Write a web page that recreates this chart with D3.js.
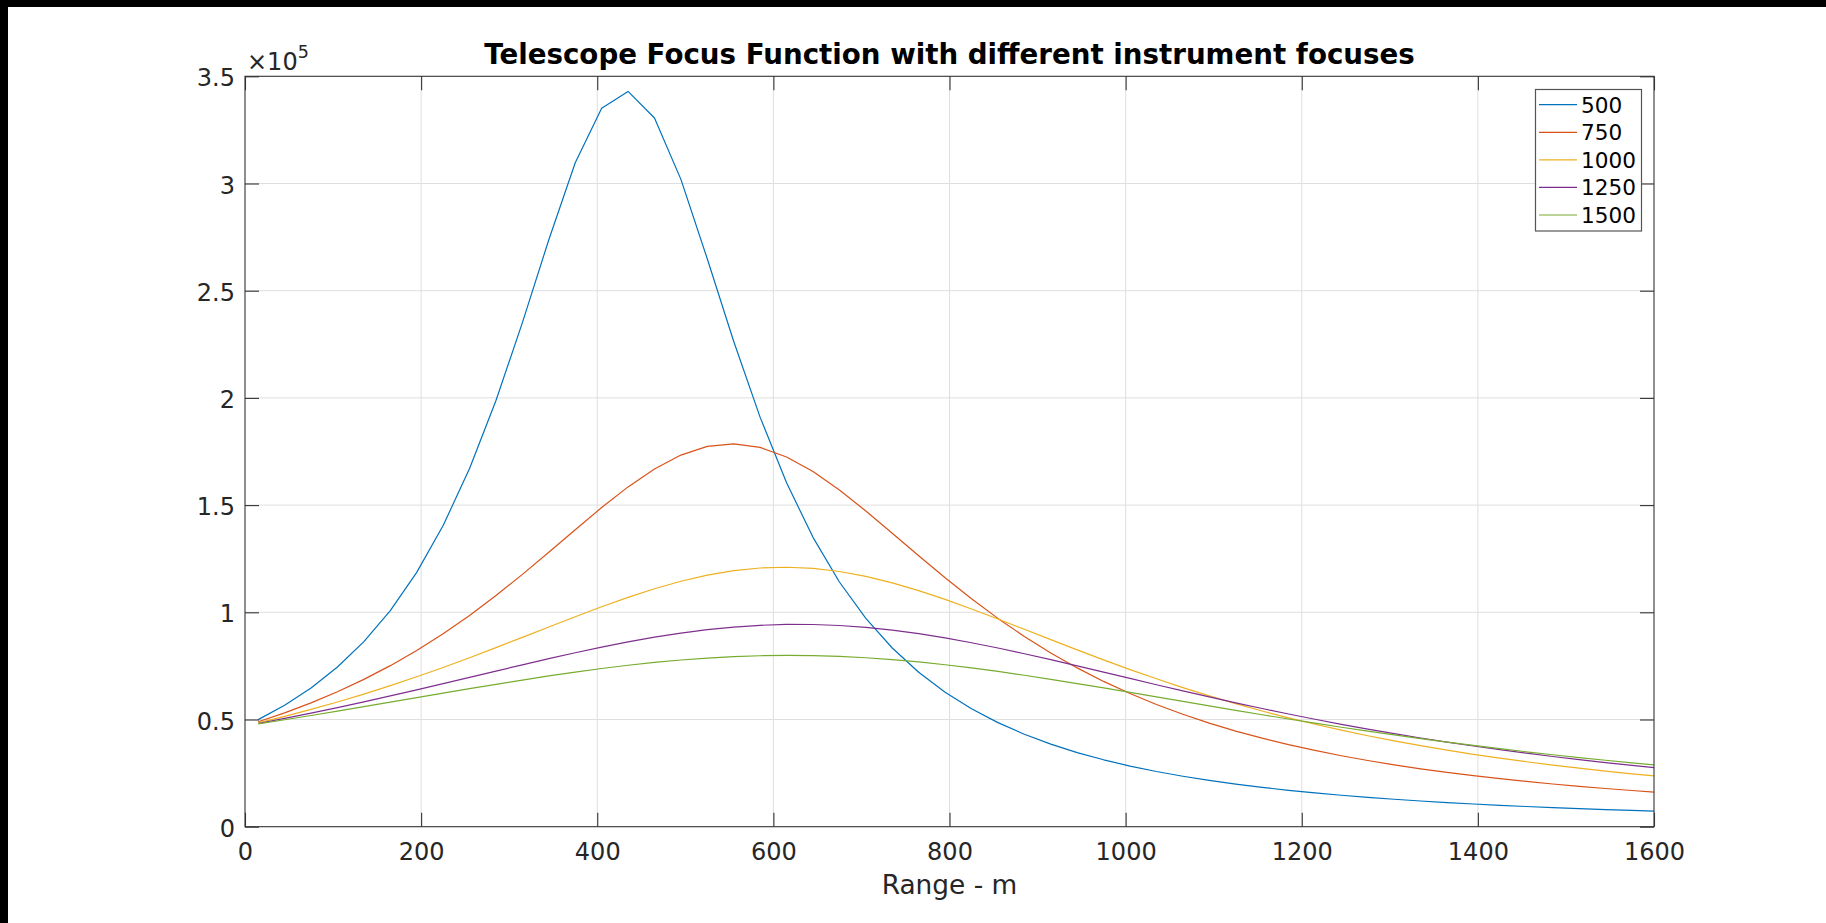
<!DOCTYPE html>
<html>
<head>
<meta charset="utf-8">
<script src="https://cdn.jsdelivr.net/npm/d3@7"></script>
<style>
  html, body { margin: 0; padding: 0; background: #fff; }
  svg { display: block; }
  text { font-family: "DejaVu Sans", sans-serif; }
</style>
</head>
<body>
<svg id="chart" width="1826" height="923"></svg>
<script>
// ---- data ----
const ranges = [15,45,75,105,135,165,195,225,255,285,315,345,375,405,435,465,495,525,555,585,615,645,675,705,735,765,795,825,855,885,915,945,975,1005,1035,1065,1095,1125,1155,1185,1215,1245,1275,1305,1335,1365,1395,1425,1455,1485,1515,1545,1575,1605];
const focus500 = [49944,56669,64732,74473,86322,100818,118614,140449,167031,198757,235118,273781,309651,335137,342963,330560,301922,264793,226322,190916,160388,134965,114138,97175,83349,72035,62719,54994,48542,43112,38510,34582,31207,28290,25753,23535,21586,19864,18337,16977,15760,14668,13684,12795,11988,11255,10586,9975,9415,8900,8426,7988,7584,7209];
const focus750 = [48931,53114,57771,62952,68717,75118,82205,90014,98555,107806,117678,128006,138527,148856,158494,166854,173324,177361,178593,176903,172453,165646,157044,147259,136869,126356,116084,106302,97161,88733,81040,74064,67766,62097,57002,52424,48311,44611,41280,38275,35561,33105,30878,28854,27012,25332,23796,22389,21098,19911,18818,17809,16876,16013];
const focus1000 = [48435,51461,54702,58167,61859,65779,69923,74277,78818,83512,88308,93144,97935,102582,106973,110978,114469,117318,119413,120665,121020,120462,119017,116744,113741,110124,106022,101564,96875,92067,87233,82454,77790,73289,68980,64885,61015,57374,53960,50768,47789,45013,42428,40024,37788,35709,33775,31975,30300,28740,27286,25930,24664,23482];
const focus1250 = [48142,50506,52977,55552,58224,60983,63818,66710,69640,72581,75502,78366,81135,83762,86201,88402,90318,91906,93124,93943,94339,94303,93834,92949,91666,90020,88053,85808,83334,80681,77894,75016,72090,69149,66224,63339,60516,57771,55115,52558,50104,47757,45519,43390,41367,39448,37630,35909,34281,32742,31288,29913,28613,27386];
const focus1500 = [47947,49884,51873,53905,55974,58069,60176,62281,64367,66415,68404,70310,72110,73779,75292,76625,77755,78661,79329,79745,79900,79791,79422,78798,77932,76840,75541,74058,72415,70637,68748,66772,64733,62652,60549,58441,56343,54269,52229,50232,48286,46396,44566,42798,41097,39460,37889,36385,34944,33566,32250,30993,29795,28651];
const seriesNames = ["500","750","1000","1250","1500"];
const seriesColors = ["#0072BD","#D95319","#EDB120","#7E2F8E","#77AC30"];
const xTicks = [0,200,400,600,800,1000,1200,1400,1600];
const yTicks = [0,50000,100000,150000,200000,250000,300000,350000];
const yTickLabels = ["0","0.5","1","1.5","2","2.5","3","3.5"];
const titleText = "Telescope Focus Function with different instrument focuses";
const xLabelText = "Range - m";

const allSeries = [focus500, focus750, focus1000, focus1250, focus1500];

// ---- layout ----
const L = 245, R = 1654, T = 76.3, B = 826.7;
const svg = d3.select("#chart");

svg.append("rect").attr("x",0).attr("y",0).attr("width",1826).attr("height",923).attr("fill","#fff");
svg.append("rect").attr("x",0).attr("y",0).attr("width",1826).attr("height",7).attr("fill","#000");
svg.append("rect").attr("x",0).attr("y",0).attr("width",8).attr("height",923).attr("fill","#000");

const x = d3.scaleLinear().domain([0,1600]).range([L,R]);
const y = d3.scaleLinear().domain([0,350000]).range([B,T]);

// grid
const grid = svg.append("g").attr("class","grid");
grid.selectAll("line.gx").data(xTicks.slice(1,-1)).join("line")
  .attr("x1", d=>x(d)).attr("x2", d=>x(d)).attr("y1",T).attr("y2",B)
  .attr("stroke","#dfdfdf").attr("stroke-width",1);
grid.selectAll("line.gy").data(yTicks.slice(1,-1)).join("line")
  .attr("y1", d=>y(d)).attr("y2", d=>y(d)).attr("x1",L).attr("x2",R)
  .attr("stroke","#dfdfdf").attr("stroke-width",1);

// clip
svg.append("clipPath").attr("id","plotclip").append("rect")
  .attr("x",L).attr("y",T).attr("width",R-L).attr("height",B-T);

const line = d3.line().x((d,i)=>x(ranges[i])).y(d=>y(d));
const lines = svg.append("g").attr("clip-path","url(#plotclip)");
allSeries.forEach((s,k)=>{
  lines.append("path").datum(s).attr("d",line)
    .attr("fill","none").attr("stroke",seriesColors[k]).attr("stroke-width",1.2)
    .attr("stroke-linejoin","round");
});

// axes
const tickLen = 14;
const axB = d3.axisBottom(x).tickValues(xTicks).tickSize(-tickLen).tickPadding(16).tickFormat(d3.format("d"));
const axT = d3.axisTop(x).tickValues(xTicks).tickSize(-tickLen).tickFormat("");
const axLft = d3.axisLeft(y).tickValues(yTicks).tickSize(-tickLen).tickPadding(10).tickFormat((d,i)=>yTickLabels[i]);
const axRgt = d3.axisRight(y).tickValues(yTicks).tickSize(-tickLen).tickFormat("");

function styleAxis(g){
  g.select(".domain").remove();
  g.selectAll(".tick line").attr("stroke","#333").attr("stroke-width",1.1);
  g.selectAll("text").attr("font-size",24).attr("font-family","DejaVu Sans").attr("fill","#262626");
}
svg.append("g").attr("transform",`translate(0,${B})`).call(axB).call(styleAxis);
svg.append("g").attr("transform",`translate(0,${T})`).call(axT).call(styleAxis);
const gl = svg.append("g").attr("transform",`translate(${L},0)`).call(axLft).call(styleAxis);
gl.selectAll("text").attr("dy","0.4em");
svg.append("g").attr("transform",`translate(${R},0)`).call(axRgt).call(styleAxis);

// frame
svg.append("rect").attr("x",L).attr("y",T).attr("width",R-L).attr("height",B-T)
  .attr("fill","none").attr("stroke","#333").attr("stroke-width",1.1);

// exponent
const ex = svg.append("text").attr("x",247).attr("y",70).attr("font-size",24).attr("fill","#262626");
ex.append("tspan").text("\u00d710");
ex.append("tspan").attr("font-size",17.5).attr("dy",-12).text("5");

// title
svg.append("text").attr("x",(L+R)/2).attr("y",64).attr("text-anchor","middle")
  .attr("font-size",27.7).attr("font-weight","bold").attr("fill","#000").text(titleText);

// x label
svg.append("text").attr("x",(L+R)/2).attr("y",894).attr("text-anchor","middle")
  .attr("font-size",26.4).attr("fill","#262626").text(xLabelText);

// legend
const lg = svg.append("g");
lg.append("rect").attr("x",1535.5).attr("y",89.5).attr("width",106).attr("height",141.5)
  .attr("fill","#fff").attr("stroke","#555").attr("stroke-width",1.2);
const rowY = d3.scaleLinear().domain([0,4]).range([104.7,215]);
seriesNames.forEach((n,k)=>{
  const yy = rowY(k);
  lg.append("line").attr("x1",1539).attr("x2",1577).attr("y1",yy).attr("y2",yy)
    .attr("stroke",seriesColors[k]).attr("stroke-width",1.2);
  lg.append("text").attr("x",1581).attr("y",yy+8).attr("font-size",21.6).attr("fill","#000").text(n);
});
</script>
</body>
</html>
